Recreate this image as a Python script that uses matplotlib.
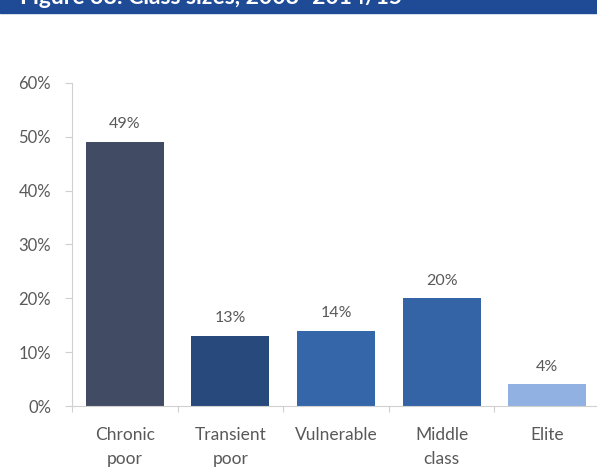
import matplotlib
matplotlib.use("Agg")
import matplotlib.pyplot as plt
from matplotlib.patches import Rectangle

categories = ["Chronic\npoor", "Transient\npoor", "Vulnerable", "Middle\nclass", "Elite"]
shares = [49, 13, 14, 20, 4]
colors = ["#414c64", "#27497b", "#3566a9", "#3564a6", "#90b1e2"]
yticks = [0, 10, 20, 30, 40, 50, 60]

TXT, AX = "#595959", "#d0d0d0"
plt.rcParams["font.family"] = ["Lato", "DejaVu Sans"]

W, H = 597, 469
fig = plt.figure(figsize=(W / 100, H / 100), dpi=100, facecolor="white")

# header banner, cut off at the top edge as in the source scan
fig.add_artist(Rectangle((0, 1 - 13 / H), 1, 13 / H, transform=fig.transFigure,
                         color="#1f4b96", zorder=0))
fig.text(20 / W, 1 - 4.5 / H, "Figure 38: Class sizes, 2008–2014/15", color="white",
         fontsize=16.5, fontweight="bold", va="baseline", ha="left")

ax = fig.add_axes([72 / W, (H - 406) / H, 528 / W, 323 / H])
x = range(len(categories))
ax.bar(x, shares, width=0.74, color=colors, zorder=2)
for xi, v in zip(x, shares):
    ax.text(xi, v + 2.0, f"{v}%", ha="center", va="bottom", color=TXT, fontsize=11.5)

ax.set_xlim(-0.5, len(categories) - 0.5)
ax.set_ylim(0, 60)
ax.set_yticks(yticks)
ax.set_yticklabels([f"{t}%" for t in yticks], color=TXT, fontsize=12)
ax.set_xticks([i - 0.5 for i in range(len(categories) + 1)], minor=False)
ax.set_xticklabels([])
ax.set_xticks(list(x), minor=True)
ax.set_xticklabels(categories, minor=True, color=TXT, fontsize=12.5, linespacing=1.65)
ax.tick_params(axis="x", which="minor", length=0, pad=15)
ax.tick_params(axis="x", which="major", length=4, color=AX, direction="out")
ax.tick_params(axis="y", length=5, color=AX, pad=10)
for sp in ("top", "right"):
    ax.spines[sp].set_visible(False)
for sp in ("left", "bottom"):
    ax.spines[sp].set_color(AX)

fig.savefig("out.png", dpi=100, facecolor="white")
